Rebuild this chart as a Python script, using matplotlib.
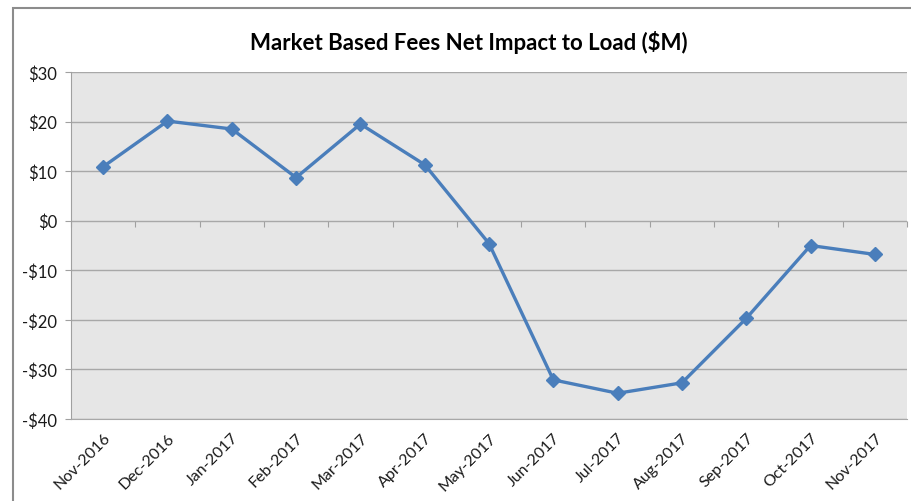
import numpy as np
import matplotlib
matplotlib.use('Agg')
import matplotlib.pyplot as plt
from matplotlib.patches import Rectangle

months = ['Nov-2016', 'Dec-2016', 'Jan-2017', 'Feb-2017', 'Mar-2017', 'Apr-2017',
          'May-2017', 'Jun-2017', 'Jul-2017', 'Aug-2017', 'Sep-2017', 'Oct-2017', 'Nov-2017']
impact = [10.9, 20.1, 18.5, 8.7, 19.5, 11.3, -4.6, -32.1, -34.8, -32.7, -19.7, -5.0, -6.8]
yticks = [30, 20, 10, 0, -10, -20, -30, -40]
ytick_labels = ['$30', '$20', '$10', '$0', '-$10', '-$20', '-$30', '-$40']

plt.rcParams['font.family'] = ['Lato', 'DejaVu Sans']

fig = plt.figure(figsize=(9.12, 5.02), dpi=100)
# outer chart border (top/left visible in the screenshot)
fig.patches.append(Rectangle((0.0145, -0.05), 1.2, 1.033, transform=fig.transFigure,
                             fill=False, edgecolor='#8c8c8c', lw=1.5))

ax = fig.add_axes([0.0779, 0.1633, 0.9166, 0.6913])
ax.set_facecolor('#e6e6e6')

x = np.arange(len(months))
ax.plot(x, impact, color='#4a7ebb', lw=2.4, marker='D', ms=7, zorder=3)

ax.set_xlim(-0.5, len(months) - 0.5)
ax.set_ylim(-40, 30)
ax.set_yticks(yticks)
ax.set_yticklabels(ytick_labels, fontsize=12, color='#1a1a1a')
ax.set_xticks(x)
ax.set_xticklabels(months, rotation=45, ha='right', rotation_mode='anchor', fontsize=11.5, color='#1a1a1a')
ax.tick_params(axis='x', length=0, pad=8)
ax.tick_params(axis='y', length=4, color='#a0a0a0', pad=6)
ax.grid(axis='y', color='#a8a8a8', lw=1.0)
ax.set_axisbelow(True)

for s in ['top', 'right']:
    ax.spines[s].set_visible(False)
ax.spines['left'].set_color('#a0a0a0')
ax.spines['bottom'].set_color('#a8a8a8')

# category axis crosses at zero, tick marks at category boundaries
zero_pos = (0 - (-40)) / 70
sec = ax.secondary_xaxis(zero_pos)
sec.set_xticks(np.arange(-0.5, len(months), 1.0))
sec.tick_params(axis='x', direction='out', length=4, color='#a0a0a0', labelbottom=False, labeltop=False,
                bottom=True, top=False)
sec.spines['bottom'].set_color('#a0a0a0')
sec.spines['top'].set_visible(False)
sec.xaxis.set_ticks_position('bottom')
sec.set_xticklabels([])

fig.text(0.514, 0.915, 'Market Based Fees Net Impact to Load ($M)', ha='center', va='center',
         fontsize=16, fontweight='bold', color='black')

fig.savefig('out.png', dpi=100)
